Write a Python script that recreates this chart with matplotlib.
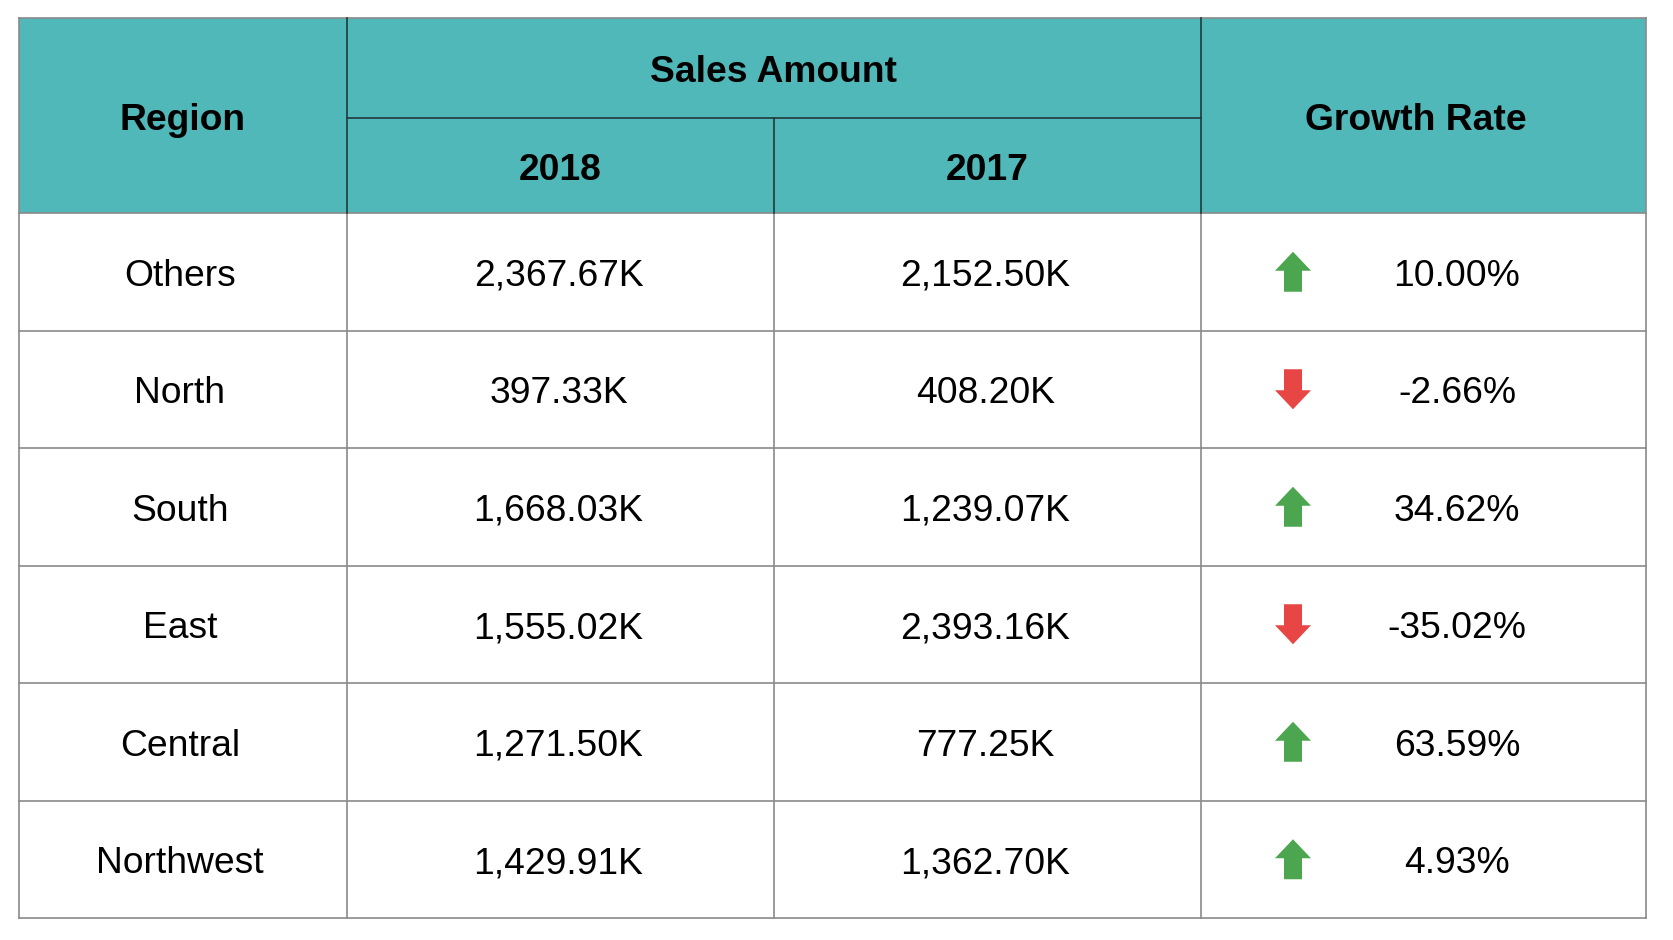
import matplotlib
matplotlib.use("Agg")
import matplotlib.pyplot as plt
from matplotlib.patches import Rectangle, Polygon

regions = ["Others", "North", "South", "East", "Central", "Northwest"]
sales_2018 = ["2,367.67K", "397.33K", "1,668.03K", "1,555.02K", "1,271.50K", "1,429.91K"]
sales_2017 = ["2,152.50K", "408.20K", "1,239.07K", "2,393.16K", "777.25K", "1,362.70K"]
growth = [10.00, -2.66, 34.62, -35.02, 63.59, 4.93]

plt.rcParams['font.family'] = ['Liberation Sans', 'DejaVu Sans']

W, H = 1673, 940
fig = plt.figure(figsize=(W / 100, H / 100), dpi=100)
ax = fig.add_axes([0, 0, 1, 1])
ax.set_xlim(0, W)
ax.set_ylim(H, 0)
ax.axis('off')

xs = [19, 347, 774, 1201, 1646]
top, mid, hdr_bot, bot = 18, 118, 213, 918
nrows = len(regions)
rh = (bot - hdr_bot) / nrows
teal = '#50B8B8'
hline = '#1f3a3a'
gline = '#8a8a8a'
fs = 26.8
dy = 4.5

# header background
ax.add_patch(Rectangle((xs[0], top), xs[-1] - xs[0], hdr_bot - top, facecolor=teal, edgecolor='none', zorder=1))

# header lines
ax.plot([xs[1], xs[1]], [top, hdr_bot], color=hline, lw=1.2, zorder=3)
ax.plot([xs[3], xs[3]], [top, hdr_bot], color=hline, lw=1.2, zorder=3)
ax.plot([xs[2], xs[2]], [mid, hdr_bot], color=hline, lw=1.2, zorder=3)
ax.plot([xs[1], xs[3]], [mid, mid], color=hline, lw=1.2, zorder=3)

# header texts
ax.text((xs[0] + xs[1]) / 2, (top + hdr_bot) / 2 + dy, "Region", ha='center', va='center', fontsize=fs, fontweight='bold', zorder=4)
ax.text((xs[1] + xs[3]) / 2, (top + mid) / 2 + dy, "Sales Amount", ha='center', va='center', fontsize=fs, fontweight='bold', zorder=4)
ax.text((xs[1] + xs[2]) / 2, (mid + hdr_bot) / 2 + dy, "2018", ha='center', va='center', fontsize=fs, fontweight='bold', zorder=4)
ax.text((xs[2] + xs[3]) / 2, (mid + hdr_bot) / 2 + dy, "2017", ha='center', va='center', fontsize=fs, fontweight='bold', zorder=4)
ax.text((xs[3] + xs[4]) / 2 - 8, (top + hdr_bot) / 2 + dy, "Growth Rate", ha='center', va='center', fontsize=fs, fontweight='bold', zorder=4)

# body grid
for i in range(nrows + 1):
    y = hdr_bot + i * rh
    ax.plot([xs[0], xs[-1]], [y, y], color=gline, lw=1.2, zorder=2)
for x in xs:
    ax.plot([x, x], [hdr_bot, bot], color=gline, lw=1.2, zorder=2)
ax.plot([xs[0], xs[0]], [top, hdr_bot], color=gline, lw=1.2, zorder=2)
ax.plot([xs[-1], xs[-1]], [top, hdr_bot], color=gline, lw=1.2, zorder=2)
ax.plot([xs[0], xs[-1]], [top, top], color=gline, lw=1.2, zorder=2)

arrow_x = 1293
text_x = 1457
for i, (r, a, b, g) in enumerate(zip(regions, sales_2018, sales_2017, growth)):
    cy = hdr_bot + (i + 0.5) * rh
    ax.text((xs[0] + xs[1]) / 2 - 3, cy + dy, r, ha='center', va='center', fontsize=fs, zorder=4)
    ax.text((xs[1] + xs[2]) / 2 - 2, cy + dy, a, ha='center', va='center', fontsize=fs, zorder=4)
    ax.text((xs[2] + xs[3]) / 2 - 2, cy + dy, b, ha='center', va='center', fontsize=fs, zorder=4)
    ax.text(text_x, cy + dy, f"{g:.2f}%", ha='center', va='center', fontsize=fs, zorder=4)
    hw, sw, hh, half = 18, 9, 19, 20
    if g >= 0:
        pts = [(arrow_x, cy - half), (arrow_x + hw, cy - half + hh), (arrow_x + sw, cy - half + hh),
               (arrow_x + sw, cy + half), (arrow_x - sw, cy + half), (arrow_x - sw, cy - half + hh),
               (arrow_x - hw, cy - half + hh)]
        col = '#4CA64F'
    else:
        pts = [(arrow_x, cy + half), (arrow_x + hw, cy + half - hh), (arrow_x + sw, cy + half - hh),
               (arrow_x + sw, cy - half), (arrow_x - sw, cy - half), (arrow_x - sw, cy + half - hh),
               (arrow_x - hw, cy + half - hh)]
        col = '#E84545'
    ax.add_patch(Polygon(pts, closed=True, facecolor=col, edgecolor='none', zorder=4))

fig.savefig("out.png", dpi=100, facecolor='white')
